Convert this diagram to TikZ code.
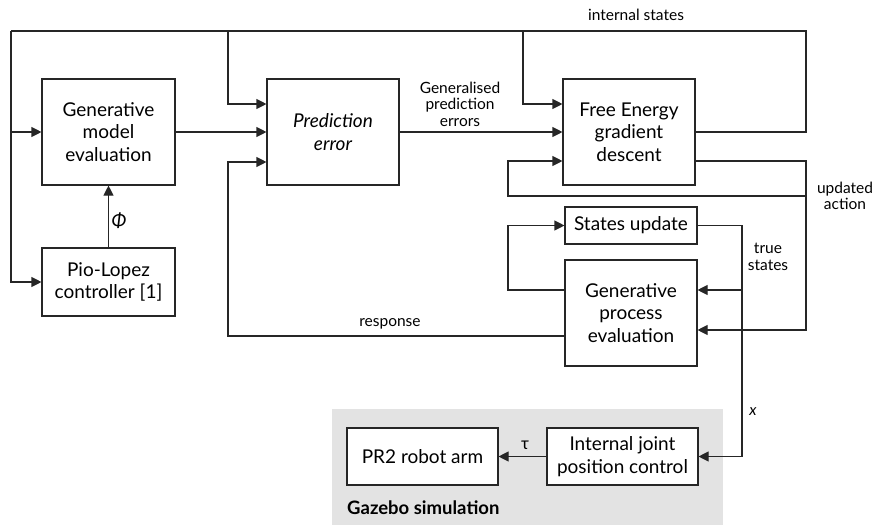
\documentclass[tikz,border=0pt]{standalone}
\usepackage{fontspec}
\setmainfont{Lato}
\usetikzlibrary{arrows.meta,positioning}

\begin{document}
\begin{tikzpicture}[x=1pt,y=-1pt,>={Triangle[length=10pt,width=10pt]},
  block/.style={draw=black!85,line width=1.1pt,fill=white,align=center,
    inner sep=2pt,font=\fontsize{19}{22.7}\selectfont},
  lbl/.style={align=center,inner sep=0pt,font=\fontsize{15.5}{16.5}\selectfont},
  wire/.style={draw=black!85,line width=1.1pt}]
  \useasboundingbox (0,0) rectangle (879,525);

  % Simulation area
  \fill[black!11] (332,409) rectangle (723,525);
  \node[anchor=west,inner sep=0pt,font=\fontsize{18.5}{20}\selectfont\bfseries] (gz) at (347,508) {Gazebo simulation};

  % Blocks
  \node[block,minimum width=133pt,minimum height=106pt] (gme) at (108.5,132) {Generative\\model\\evaluation};
  \node[block,minimum width=132pt,minimum height=106pt,font=\fontsize{19}{22.7}\selectfont\itshape] (pe) at (333,132) {Prediction\\error};
  \node[block,minimum width=132pt,minimum height=106pt] (fe) at (629,132) {Free Energy\\gradient\\descent};
  \node[block,minimum width=133pt,minimum height=68pt] (pio) at (108.5,282) {Pio-Lopez\\controller [1]};
  \node[block,minimum width=132pt,minimum height=37pt] (su) at (631,225.5) {States update};
  \node[block,minimum width=132pt,minimum height=106pt] (gp) at (631,313) {Generative\\process\\evaluation};
  \node[block,minimum width=151pt,minimum height=57pt] (pr2) at (422.5,456.5) {PR2 robot arm};
  \node[block,minimum width=151pt,minimum height=57pt] (ijc) at (622.5,456.5) {Internal joint\\position control};

  % Corner points
  \coordinate (topl) at (11,31);
  \coordinate (topr) at (806,31);
  \coordinate (lsplit) at (11,132);
  \coordinate (j1) at (228,31);
  \coordinate (j2) at (523,31);
  \coordinate (act) at (806,196);
  \coordinate (actl) at (508,196);
  \coordinate (ts) at (742,290);
  \coordinate (lp) at (508,290);
  \coordinate (resp) at (228,336);

  % Internal states feedback
  \draw[wire] (fe.east) -| (topr) -- (topl);
  \draw[wire,->] (topl) |- (pio.west);
  \draw[wire,->] (lsplit) -- (gme.west);
  \draw[wire,->] (j1) |- ([yshift=28pt]pe.west);
  \draw[wire,->] (j2) |- ([yshift=28pt]fe.west);

  % Forward path
  \draw[wire,->] (gme.east) -- (pe.west);
  \draw[wire,->] (pio.north) -- (gme.south);
  \draw[wire,->] (pe.east) -- (fe.west);

  % Updated action
  \draw[wire,->] ([yshift=-29pt]fe.east) -| (act) |- ([yshift=-17pt]gp.east);
  \draw[wire,->] (act) -- (actl) |- ([yshift=-29pt]fe.west);

  % True states
  \draw[wire,->] (su.east) -| (ts) -- ([yshift=23pt]gp.east);
  \draw[wire,->] (ts) |- (ijc.east);
  \draw[wire,->] ([yshift=23pt]gp.west) -- (lp) |- (su.west);

  % Response
  \draw[wire,->] ([yshift=-23pt]gp.west) -- (resp) |- ([yshift=-30pt]pe.west);

  % Simulation
  \draw[wire,->] (ijc.west) -- (pr2.east);

  % Labels
  \node[lbl] (lint) at (636,15) {internal states};
  \node[lbl] (lgen) at (460,104) {Generalised\\prediction\\errors};
  \node[lbl] (lact) at (845,196) {updated\\action};
  \node[lbl] (lts) at (768,257) {true\\states};
  \node[lbl] (lresp) at (390,324) {response};
  \node[lbl,font=\fontsize{15.5}{16.5}\selectfont\itshape] (lx) at (753,412) {x};
  \node[lbl,font=\fontsize{19}{20}\selectfont\itshape] (lphi) at (119,221) {Φ};
  \node[lbl,font=\fontsize{17}{18}\selectfont] (ltau) at (525,445) {τ};
\end{tikzpicture}
\end{document}
